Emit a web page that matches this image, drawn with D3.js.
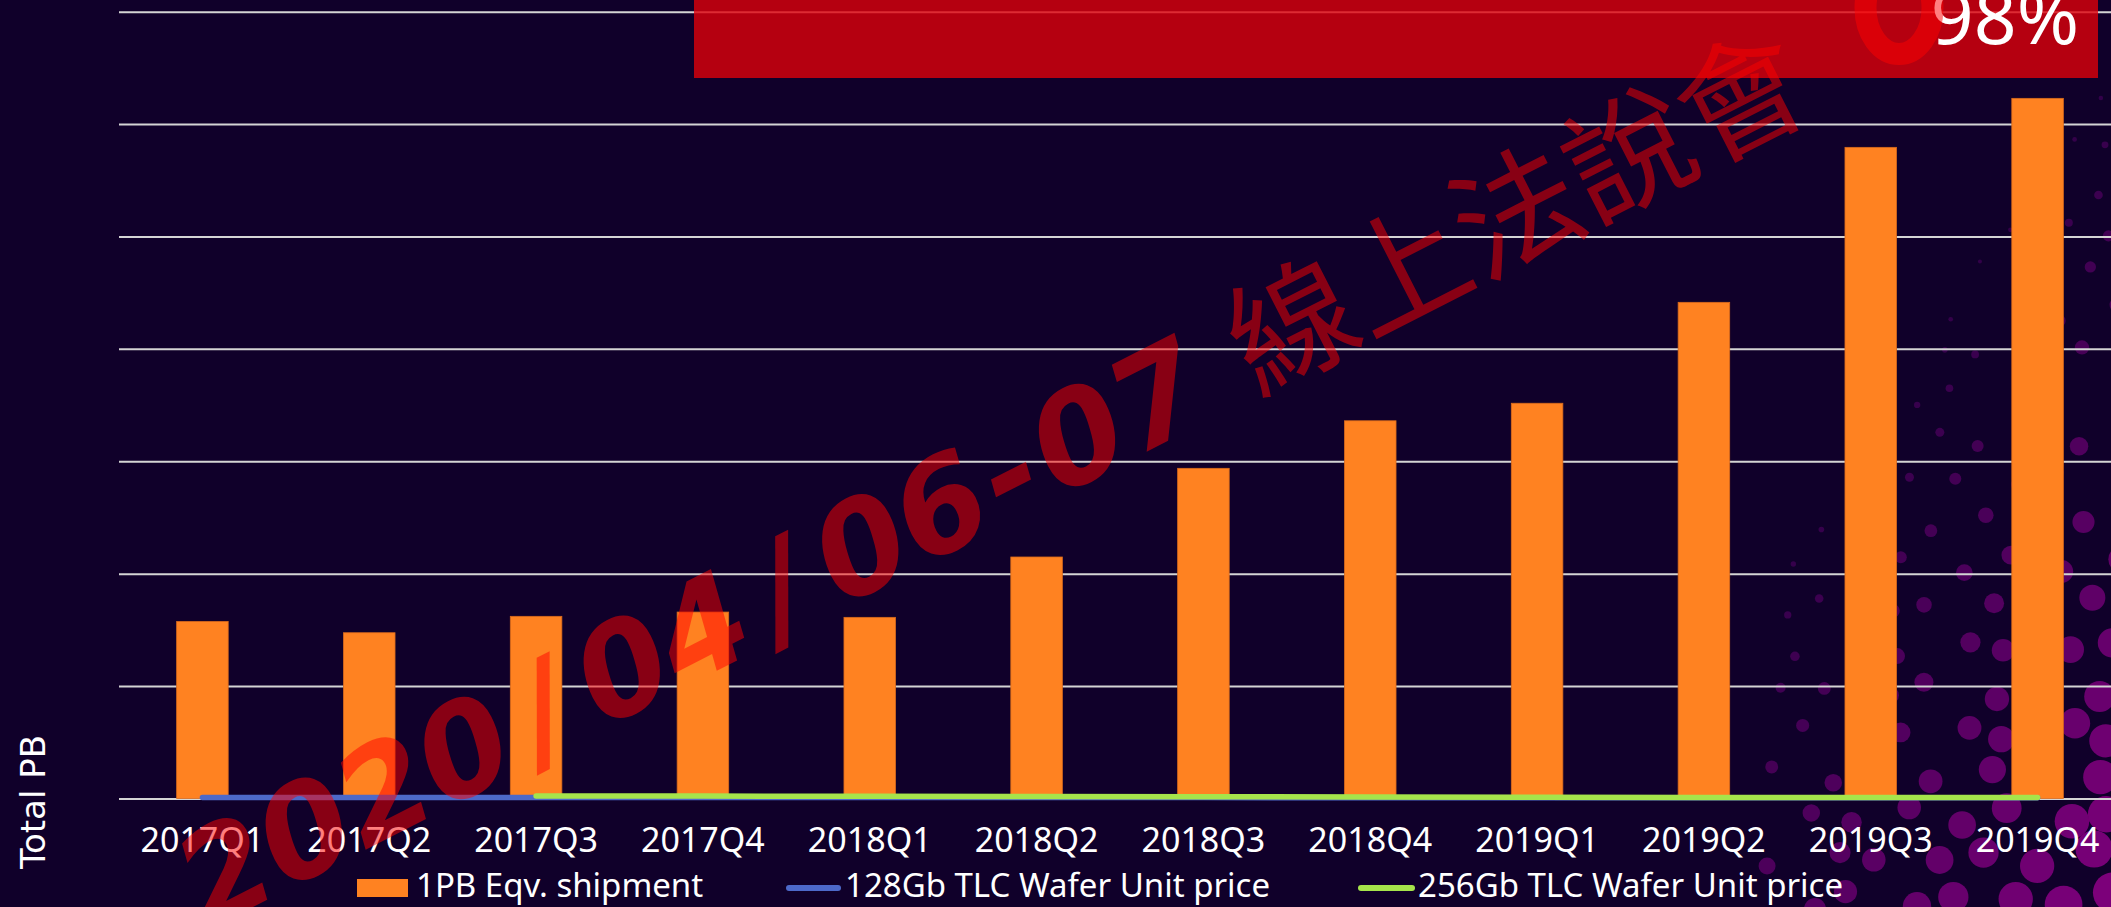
<!DOCTYPE html>
<html><head><meta charset="utf-8">
<script src="https://cdn.jsdelivr.net/npm/d3@7"></script>
<style>
html,body{margin:0;padding:0;background:#10002a;overflow:hidden}
svg{display:block}
</style></head><body>
<svg id="c" width="2111" height="907"></svg>
<script>
// ---------------- data ----------------
const categories = ["2017Q1","2017Q2","2017Q3","2017Q4","2018Q1","2018Q2","2018Q3","2018Q4","2019Q1","2019Q2","2019Q3","2019Q4"];
const shipmentPB = [15.74, 14.74, 16.20, 16.58, 16.11, 21.48, 29.37, 33.60, 35.16, 44.14, 57.93, 62.29]; // thousand PB (est.)
const price128 = [1.2, 1.2, 1.3, 1.3, 1.2, 1.1, 1.0, 0.9, 0.8, 0.8, 0.9, 0.9];          // secondary (hidden) axis
const price256 = [null, null, 3.0, 2.9, 2.7, 2.4, 2.1, 1.8, 1.5, 1.3, 1.1, 1.0];
const gridTicks = [0, 10, 20, 30, 40, 50, 60, 70];
const seriesNames = ["1PB Eqv. shipment", "128Gb TLC Wafer Unit price", "256Gb TLC Wafer Unit price"];
const axisTitle = "Total PB";
const bannerValue = "98%";
const watermarkParts = ["2020", "/", "04", "/", "06", "-", "07"];
const watermarkTitle = "線上法說會";

// ---------------- setup ----------------
const W = 2111, H = 907;
const svg = d3.select("#c");
const BG = "#10002a";
const ORANGE = "#ff8221", BLUE = "#4d69c9", GREEN = "#a6e44b";

svg.append("rect").attr("width", W).attr("height", H).attr("fill", BG);

// decorative halftone dots (background ornament, not data)
const dotG = svg.append("g");
const dotColor = d3.interpolateRgb("#2a0044", "#7c007a");
for (let row = 0; row < 22; row++) {
  for (let col = 0; col < 10; col++) {
    const bx = 1700 + col * 52 + (row % 2) * 26;
    const by = 60 + row * 42;
    const x = bx + 11 * Math.sin(row * 12.9898 + col * 78.233);
    const y = by + 9 * Math.cos(row * 4.13 + col * 2.71);
    const r = 2 + 0.032 * (x - 1850) + 0.022 * (y - 450);
    if (r < 1.6 || x > W + 25 || x < 1765) continue;
    dotG.append("circle").attr("cx", x).attr("cy", y).attr("r", Math.min(r, 22))
      .attr("fill", dotColor(Math.min(1, r / 20)));
  }
}

const x = d3.scaleBand().domain(categories).range([119, 2121])
  .paddingInner(0.691).paddingOuter(0.3455);
const y = d3.scaleLinear().domain([0, 70]).range([798.4, 11.7]);
const y2 = d3.scaleLinear().domain([0, 1000]).range([798.4, 11.7]);

// gridlines
const gridAxis = d3.axisLeft(y).tickValues(gridTicks).tickSize(-(2121 - 119)).tickFormat("");
const gg = svg.append("g").attr("transform", "translate(119,0)").call(gridAxis);
gg.select(".domain").remove();
gg.selectAll(".tick line").attr("stroke", "#d4d4d4").attr("stroke-width", 2);

// bars
svg.append("g").selectAll("rect").data(categories).join("rect")
  .attr("x", d => x(d))
  .attr("width", x.bandwidth())
  .attr("y", (d, i) => y(shipmentPB[i]))
  .attr("height", (d, i) => y(0) - y(shipmentPB[i]))
  .attr("fill", ORANGE)
  .attr("stroke", "#d96a1c").attr("stroke-width", 0.8);

// price lines
const cx = d => x(d) + x.bandwidth() / 2;
const line = d3.line().defined(d => d.v != null).x(d => cx(d.c)).y(d => y2(d.v));
svg.append("path").datum(categories.map((c, i) => ({c, v: price128[i]})))
  .attr("d", line).attr("fill", "none").attr("stroke", BLUE)
  .attr("stroke-width", 5.5).attr("stroke-linecap", "round").attr("stroke-linejoin", "round");
svg.append("path").datum(categories.map((c, i) => ({c, v: price256[i]})))
  .attr("d", line).attr("fill", "none").attr("stroke", GREEN)
  .attr("stroke-width", 5.5).attr("stroke-linecap", "round").attr("stroke-linejoin", "round");

// x axis labels
const xa = svg.append("g").attr("transform", "translate(0,798.4)")
  .call(d3.axisBottom(x).tickSize(0).tickPadding(0));
xa.select(".domain").remove();
xa.selectAll("text").attr("y", 54).attr("dy", null)
  .attr("fill", "#ffffff").style("font-family", "'Noto Sans', sans-serif").style("font-size", "34px");

// axis title
svg.append("text").attr("transform", "translate(45,802) rotate(-90)")
  .attr("text-anchor", "middle").attr("fill", "#fff")
  .style("font-family", "'DejaVu Sans', sans-serif").style("font-size", "34px")
  .text(axisTitle);

// legend
const lg = svg.append("g").style("font-family", "'Noto Sans', sans-serif").style("font-size", "33px");
lg.append("rect").attr("x", 357).attr("y", 879).attr("width", 51).attr("height", 18).attr("fill", ORANGE);
lg.append("text").attr("x", 416).attr("y", 897).attr("fill", "#fff").text(seriesNames[0]);
lg.append("line").attr("x1", 789).attr("x2", 838).attr("y1", 888).attr("y2", 888)
  .attr("stroke", BLUE).attr("stroke-width", 6).attr("stroke-linecap", "round");
lg.append("text").attr("x", 845).attr("y", 897).attr("fill", "#fff").text(seriesNames[1]);
lg.append("line").attr("x1", 1361).attr("x2", 1412).attr("y1", 888).attr("y2", 888)
  .attr("stroke", GREEN).attr("stroke-width", 6).attr("stroke-linecap", "round");
lg.append("text").attr("x", 1418).attr("y", 897).attr("fill", "#fff").text(seriesNames[2]);

// red banner
svg.append("rect").attr("x", 694).attr("y", -5).attr("width", 1404).attr("height", 83)
  .attr("fill", "rgb(222,0,10)").attr("opacity", 0.8);
svg.append("text").attr("x", 2079).attr("y", 44).attr("text-anchor", "end")
  .attr("fill", "#fff").style("font-family", "'Noto Sans', sans-serif").style("font-size", "75px")
  .text(bannerValue);

// watermark
const wm = svg.append("g").attr("transform", "translate(206,931) rotate(-27)")
  .attr("fill", "rgb(255,0,0)").attr("opacity", 0.5);
const wt = wm.append("text")
  .style("font-family", "'DejaVu Sans', sans-serif").style("font-weight", "bold")
  .style("font-style", "italic").style("font-size", "128px");
const gaps = {"/": 21.4, "-": 6};
watermarkParts.forEach((p, i) => {
  const prev = watermarkParts[i - 1];
  let dx = 0;
  if (gaps[p] != null) dx = gaps[p];
  else if (prev && gaps[prev] != null) dx = gaps[prev];
  wt.append("tspan").attr("dx", dx).text(p);
});
wt.append("tspan").attr("dx", 44.5)
  .style("font-family", "'Noto Sans CJK TC', sans-serif").style("font-weight", "normal")
  .style("font-style", "normal").style("font-size", "126px").text(watermarkTitle);
// ring continuing the watermark at top-right
svg.append("ellipse").attr("cx", 1899).attr("cy", 8).attr("rx", 33.5).attr("ry", 46)
  .attr("fill", "none").attr("stroke", "rgb(255,0,0)").attr("stroke-width", 22).attr("opacity", 0.5);
</script>
</body></html>
